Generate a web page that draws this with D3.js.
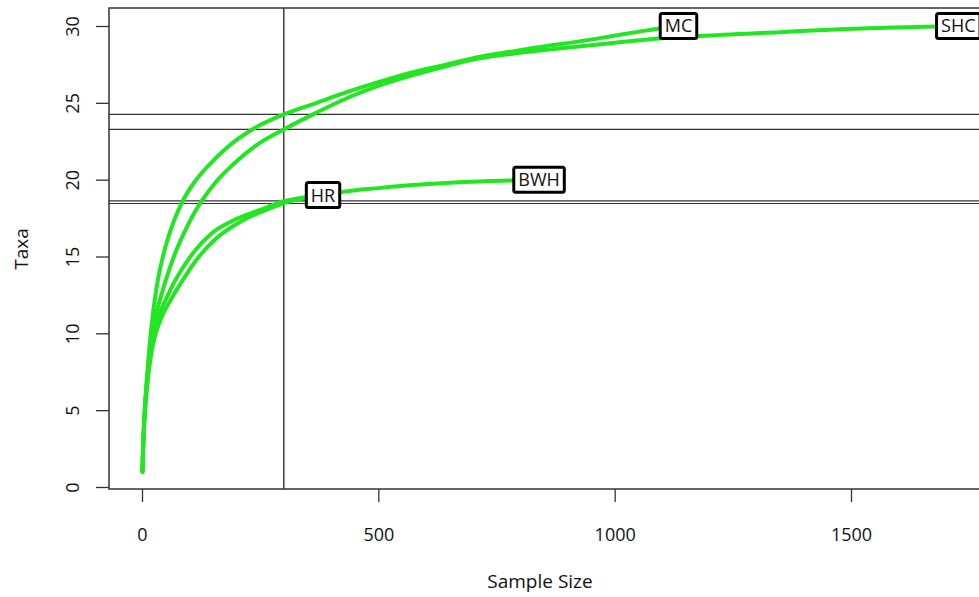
<!DOCTYPE html>
<html>
<head>
<meta charset="utf-8">
<script src="https://cdn.jsdelivr.net/npm/d3@7"></script>
<style>
  body { margin: 0; background: #fff; }
  text { font-family: "Open Sans", "Noto Sans", sans-serif; fill: #111; }
</style>
</head>
<body>
<svg id="chart"></svg>
<script>
// rarefaction curves, [sample size, taxa]
var names = ["MC", "SHC", "HR", "BWH"];
var mc = [[1,1],[2,2.3],[4,4],[7,5.7],[11,7.3],[16,9.2],[21,10.7],[27,12.2],[35,13.7],[45,15.1],[55,16.2],[70,17.5],[86,18.6],[110,19.8],[140,20.9],[180,22.1],[235,23.3],[300,24.25],[370,25.0],[433,25.7],[500,26.35],[573,27.0],[645,27.5],[715,28.0],[785,28.35],[856,28.7],[926,29.0],[996,29.35],[1065,29.7],[1135,30]];
var shc = [[1,1],[2,2.2],[4,3.9],[7,5.5],[11,7.1],[16,8.8],[22,10.2],[30,11.3],[42,12.6],[55,13.9],[70,15.2],[90,16.6],[110,17.8],[126,18.6],[155,19.8],[193,21.0],[240,22.2],[300,23.27],[365,24.3],[433,25.3],[500,26.1],[573,26.8],[645,27.4],[715,27.9],[785,28.2],[856,28.45],[996,28.9],[1102,29.2],[1180,29.35],[1349,29.6],[1490,29.8],[1727,30]];
var hr = [[1,1],[2,2.2],[4,3.8],[7,5.3],[11,6.8],[16,8.3],[22,9.5],[30,10.6],[40,11.5],[52,12.3],[66,13.2],[85,14.2],[110,15.3],[147,16.5],[190,17.3],[256,18.1],[300,18.6],[345,18.85],[383,19]];
var bwh = [[1,1],[2,2.2],[4,3.7],[7,5.2],[11,6.6],[16,7.9],[22,9.1],[30,10.1],[42,11.1],[63,12.3],[87,13.5],[118,14.9],[158,16.2],[210,17.3],[260,18.0],[300,18.48],[360,18.9],[422,19.2],[500,19.45],[573,19.65],[680,19.85],[778,19.95],[840,20]];
var curves = [mc, shc, hr, bwh];

var sampleLine = 300;
var taxaLines = [24.25, 23.27, 18.62, 18.45];

var xTicks = [0, 500, 1000, 1500];
var yTicks = [0, 5, 10, 15, 20, 25, 30];

var width = 979, height = 597;
var frame = { left: 109, top: 8, right: 995, bottom: 489 };

var svg = d3.select("#chart")
  .attr("width", width)
  .attr("height", height);

var x = d3.scaleLinear().domain([0, 1500]).range([142, 851]);
var y = d3.scaleLinear().domain([0, 30]).range([487, 26]);

// reference lines
svg.append("line")
  .attr("x1", x(sampleLine)).attr("x2", x(sampleLine))
  .attr("y1", frame.top).attr("y2", frame.bottom)
  .attr("stroke", "#333").attr("stroke-width", 1.4);

svg.selectAll(".hline")
  .data(taxaLines)
  .enter().append("line")
    .attr("class", "hline")
    .attr("x1", frame.left).attr("x2", frame.right)
    .attr("y1", function(d) { return y(d); })
    .attr("y2", function(d) { return y(d); })
    .attr("stroke", "#333").attr("stroke-width", 1.1);

// curves
var line = d3.line()
  .x(function(d) { return x(d[0]); })
  .y(function(d) { return y(d[1]); })
  .curve(d3.curveMonotoneX);

svg.selectAll(".curve")
  .data(curves)
  .enter().append("path")
    .attr("class", "curve")
    .attr("d", line)
    .attr("fill", "none")
    .attr("stroke", "#22e622")
    .attr("stroke-width", 4)
    .attr("stroke-linecap", "round");

// frame
svg.append("rect")
  .attr("x", frame.left).attr("y", frame.top)
  .attr("width", frame.right - frame.left)
  .attr("height", frame.bottom - frame.top)
  .attr("fill", "none").attr("stroke", "#333").attr("stroke-width", 1.5);

// axes
var xAxis = svg.append("g")
  .attr("transform", "translate(0," + frame.bottom + ")")
  .call(d3.axisBottom(x).tickValues(xTicks).tickSize(13).tickPadding(26).tickFormat(d3.format("d")));
xAxis.select(".domain").remove();
xAxis.selectAll("line").attr("stroke", "#333").attr("stroke-width", 1.3);
xAxis.selectAll("text").style("font-size", "18px").attr("fill", "#111");

var yAxis = svg.append("g")
  .attr("transform", "translate(" + frame.left + ",0)")
  .call(d3.axisLeft(y).tickValues(yTicks).tickSize(13).tickFormat(d3.format("d")));
yAxis.select(".domain").remove();
yAxis.selectAll("line").attr("stroke", "#333").attr("stroke-width", 1.3);
yAxis.selectAll("text")
  .attr("x", null).attr("dy", null)
  .attr("transform", "translate(-30,0) rotate(-90)")
  .style("text-anchor", "middle")
  .style("font-size", "18px")
  .attr("fill", "#111");

// axis titles
svg.append("text")
  .attr("x", 540).attr("y", 588)
  .style("text-anchor", "middle")
  .style("font-size", "19px")
  .text("Sample Size");

svg.append("text")
  .attr("transform", "translate(28,249) rotate(-90)")
  .style("text-anchor", "middle")
  .style("font-size", "19px")
  .text("Taxa");

// boxed labels at curve ends
var labels = svg.selectAll(".lab")
  .data(curves)
  .enter().append("g")
    .attr("class", "lab")
    .attr("transform", function(d) {
      var end = d[d.length - 1];
      return "translate(" + x(end[0]) + "," + y(end[1]) + ")";
    });

labels.append("rect");
labels.append("text")
  .attr("dy", "0.36em")
  .style("text-anchor", "middle")
  .style("font-size", "18px")
  .attr("fill", "#111")
  .text(function(d, i) { return names[i]; });

labels.each(function() {
  var g = d3.select(this);
  var w = g.select("text").node().getComputedTextLength() + 9;
  g.select("rect")
    .attr("x", -w / 2).attr("y", -12.5)
    .attr("width", w).attr("height", 25)
    .attr("rx", 2)
    .attr("fill", "#fff")
    .attr("stroke", "#000")
    .attr("stroke-width", 3);
});
</script>
</body>
</html>
